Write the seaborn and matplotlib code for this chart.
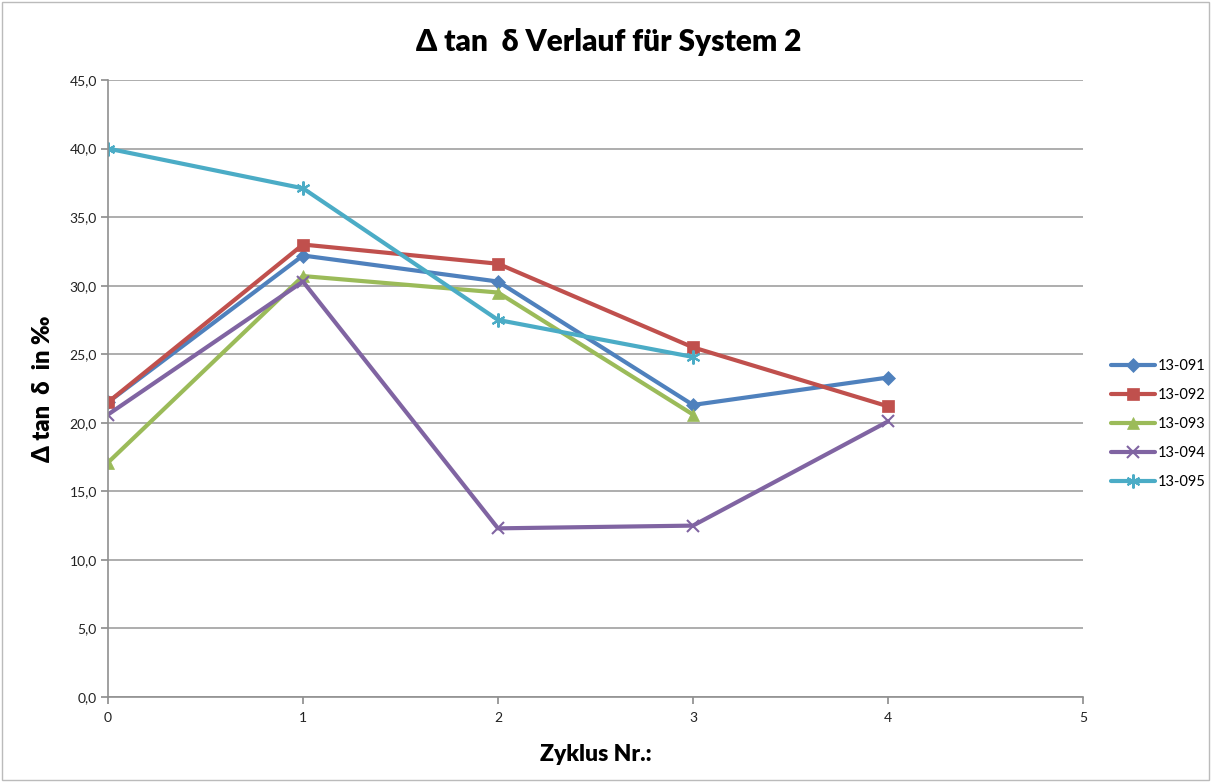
import matplotlib
matplotlib.use("Agg")
import matplotlib.pyplot as plt
import seaborn as sns
import pandas as pd
import numpy as np
from matplotlib.ticker import FuncFormatter, MultipleLocator
from matplotlib.patches import Rectangle

cycles = [0, 1, 2, 3, 4]
series_names = ["13-091", "13-092", "13-093", "13-094", "13-095"]
s091 = [21.5, 32.2, 30.3, 21.3, 23.3]
s092 = [21.5, 33.0, 31.6, 25.5, 21.2]
s093 = [17.1, 30.7, 29.5, 20.6, None]
s094 = [20.6, 30.3, 12.3, 12.5, 20.1]
s095 = [40.0, 37.1, 27.5, 24.8, None]

colors = ["#4F81BD", "#C0504D", "#9BBB59", "#8064A2", "#4BACC6"]
markers = ["D", "s", "^", "x", (6, 2, 0)]
msizes = [7, 9, 9, 9, 10]

rows = []
for name, vals in zip(series_names, [s091, s092, s093, s094, s095]):
    for c, v in zip(cycles, vals):
        if v is not None:
            rows.append({"Zyklus": c, "Wert": v, "Serie": name})
df = pd.DataFrame(rows)

sns.set_theme(style="white")
plt.rcParams['font.family'] = ['Lato', 'DejaVu Sans']
plt.rcParams['text.color'] = 'black'
plt.rcParams['axes.labelcolor'] = 'black'
plt.rcParams['xtick.color'] = '#222222'
plt.rcParams['ytick.color'] = '#222222'

fig = plt.figure(figsize=(12.11, 7.82), dpi=100)
ax = fig.add_axes([108/1211, 1-697/782, (1083-108)/1211, (697-80)/782])

for i, name in enumerate(series_names):
    sub = df[df["Serie"] == name]
    sns.lineplot(data=sub, x="Zyklus", y="Wert", ax=ax, color=colors[i],
                 marker=markers[i], markersize=msizes[i], linewidth=3,
                 markeredgecolor=colors[i], markeredgewidth=1.5 if i >= 3 else 0.5,
                 label=name, sort=False)

ax.set_xlim(0, 5)
ax.set_ylim(0, 45)
ax.yaxis.set_major_locator(MultipleLocator(5))
ax.xaxis.set_major_locator(MultipleLocator(1))
ax.yaxis.set_major_formatter(FuncFormatter(lambda v, p: f"{v:.1f}".replace(".", ",")))
ax.grid(axis="y", color="#A0A0A0", linewidth=1.2)
ax.set_axisbelow(True)
for s in ["top", "right"]:
    ax.spines[s].set_visible(False)
for s in ["left", "bottom"]:
    ax.spines[s].set_color("#909090")
    ax.spines[s].set_linewidth(1.2)
ax.tick_params(axis="y", direction="out", length=5, color="#909090", labelsize=10,
               labelcolor="#222222", pad=3, left=True)
ax.tick_params(axis="x", direction="out", length=5, color="#909090", labelsize=10,
               labelcolor="#222222", pad=6, bottom=True)

ax.set_xlabel("Zyklus Nr.:", fontsize=16.5, fontweight="heavy", labelpad=14)
ax.set_ylabel("Δ tan  δ  in ‰", fontsize=17, fontweight="heavy", labelpad=11)

fig.text(0.503, 1-42/782, "Δ tan  δ Verlauf für System 2", ha="center", va="center",
         fontsize=21.5, fontweight="heavy")

leg = ax.legend(loc="center left", bbox_to_anchor=(1105/1211, 1-424/782),
                bbox_transform=fig.transFigure, frameon=False, fontsize=10.5,
                handlelength=3, labelspacing=1.02, handletextpad=0.2, borderaxespad=0)
for t in leg.get_texts():
    t.set_color("black")

fig.patches.append(Rectangle((0.002, 0.003), 0.996, 0.994, transform=fig.transFigure,
                             fill=False, edgecolor="#BBBBBB", linewidth=1))

fig.savefig("out.png", dpi=100)
